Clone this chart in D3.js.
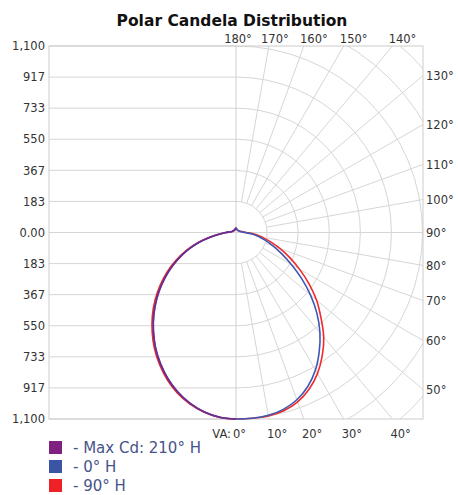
<!DOCTYPE html>
<html>
<head>
<meta charset="utf-8">
<script src="https://cdn.jsdelivr.net/npm/d3@7"></script>
<style>
  html, body { margin: 0; padding: 0; background: #fff; }
  svg { display: block; }
  text { font-family: "DejaVu Sans", Verdana, sans-serif; }
</style>
</head>
<body>
<svg id="chart" width="458" height="495"></svg>
<script>
// ---------------- DATA ----------------
const title = "Polar Candela Distribution";
const maxCd = 1100;
const tickValues = [1100, 916.67, 733.33, 550, 366.67, 183.33, 0];
const tickLabels = ["1,100", "917", "733", "550", "367", "183", "0.00"];
const rightAngles = [130, 120, 110, 100, 90, 80, 70, 60, 50];
const topAngles = [180, 170, 160, 150, 140];
const bottomAngles = [0, 10, 20, 30, 40];
const vAngles = d3.range(0, 181, 5); // vertical angles 0..180

// candela values at vAngles (0..180 step 5)
const purpleLeft = [1100,1094,1075,1044,1003,952,893,829,759,687,612,536,459,382,305,228,152,95,60,38,28,24,22,20,20,19,18,17,17,17,17,18,18,20,22,25,28];
const blueLeft   = [1100,1094,1075,1043,1001,950,891,827,757,685,610,534,457,380,304,227,151,95,60,38,28,24,22,20,20,19,18,17,17,17,17,18,18,20,22,25,28];
const redLeft    = [1100,1095,1077,1048,1009,959,901,838,769,698,624,548,471,392,313,233,155,96,60,38,28,24,22,20,20,19,18,17,17,17,17,18,18,20,22,25,28];
const blueRight  = [1100,1100,1095,1080,1050,1002,937,856,770,675,573,472,377,298,232,180,135,90,52,38,30,25,22,20,20,19,18,17,17,17,17,18,18,20,22,25,28];
const redRight   = [1100,1100,1099,1089,1063,1020,961,887,805,708,620,525,432,350,277,209,158,112,62,42,32,26,23,21,20,19,18,17,17,17,17,18,18,20,22,25,28];

const legendLabels = ["- Max Cd: 210° H", "- 0° H", "- 90° H"];
const legendColors = ["#7f2180", "#3a54a6", "#ee2126"];
const lineColors = { purple: "#722a8c", blue: "#3f57b2", red: "#f02a2a" };

// ---------------- LAYOUT ----------------
const svg = d3.select("#chart");
const x0 = 49, x1 = 423, y0 = 46, y1 = 419;
const cx = 236, cy = (y0 + y1) / 2;
const r = d3.scaleLinear().domain([0, maxCd]).range([0, (y1 - y0) / 2]);
const y = d3.scaleLinear().domain([-maxCd, maxCd]).range([y1, y0]);
const rad = a => a * Math.PI / 180;
const gridColor = "#d6d6d6";

const defs = svg.append("defs");
defs.append("clipPath").attr("id", "rightHalf")
  .append("rect").attr("x", cx).attr("y", y0).attr("width", x1 - cx).attr("height", y1 - y0);

// title
svg.append("text").attr("x", 232).attr("y", 26).attr("text-anchor", "middle")
  .attr("font-size", "15.5px").attr("font-weight", "bold").attr("fill", "#111").text(title);

const grid = svg.append("g");

// left horizontal grid lines
const signedTicks = [];
tickValues.forEach((v, i) => {
  signedTicks.push({ v: v, label: tickLabels[i] });
  if (v !== 0) signedTicks.push({ v: -v, label: tickLabels[i] });
});
grid.selectAll("line.h").data(signedTicks).enter().append("line")
  .attr("x1", x0).attr("x2", d => d.v === 0 ? x1 : cx)
  .attr("y1", d => y(d.v)).attr("y2", d => y(d.v))
  .attr("stroke", gridColor).attr("stroke-width", 1);

// right half rings
const rightGrid = grid.append("g").attr("clip-path", "url(#rightHalf)");
const ringVals = d3.range(1, 9).map(k => maxCd * k / 6);
rightGrid.selectAll("circle").data(ringVals).enter().append("circle")
  .attr("cx", cx).attr("cy", cy).attr("r", d => r(d))
  .attr("fill", "none").attr("stroke", gridColor).attr("stroke-width", 1);

// radial lines (every 10°, from first ring outward)
const radialAngles = d3.range(10, 171, 10);
rightGrid.selectAll("line.rad").data(radialAngles).enter().append("line")
  .attr("x1", a => cx + r(maxCd / 6) * Math.sin(rad(a)))
  .attr("y1", a => cy + r(maxCd / 6) * Math.cos(rad(a)))
  .attr("x2", a => cx + 600 * Math.sin(rad(a)))
  .attr("y2", a => cy + 600 * Math.cos(rad(a)))
  .attr("stroke", gridColor).attr("stroke-width", 1);

// center vertical line
grid.append("line").attr("x1", cx).attr("x2", cx).attr("y1", y0).attr("y2", y1)
  .attr("stroke", "#cfcfcf").attr("stroke-width", 1);

// border
svg.append("rect").attr("x", x0).attr("y", y0).attr("width", x1 - x0).attr("height", y1 - y0)
  .attr("fill", "none").attr("stroke", "#cccccc").attr("stroke-width", 1);

// left axis labels
const axis = d3.axisLeft(y)
  .tickValues(signedTicks.map(d => d.v))
  .tickFormat(v => signedTicks.find(d => d.v === v).label)
  .tickSize(0).tickPadding(4);
const gAxis = svg.append("g").attr("transform", `translate(${x0},0)`).call(axis);
gAxis.select(".domain").remove();
gAxis.selectAll("text").attr("font-size", "11.5px").attr("fill", "#333")
  .attr("font-family", '"DejaVu Sans", Verdana, sans-serif');

const labelStyle = sel => sel.attr("font-size", "11.5px").attr("fill", "#333");

// right labels
svg.selectAll("text.rl").data(rightAngles).enter().append("text")
  .attr("x", x1 + 3)
  .attr("y", a => cy + (x1 - cx) / Math.sin(rad(a)) * Math.cos(rad(a)))
  .attr("dy", "0.36em")
  .text(a => a + "°").call(labelStyle);

// top labels
svg.selectAll("text.tl").data(topAngles).enter().append("text")
  .attr("x", a => {
    const t = (cy - y0) / -Math.cos(rad(a));
    const lx = cx + t * Math.sin(rad(a));
    return lx + 2 + 8 * Math.min(1, (180 - a) / 20);
  })
  .attr("y", 43).attr("text-anchor", "middle")
  .text(a => a + "°").call(labelStyle);

// bottom labels
svg.selectAll("text.bl").data(bottomAngles).enter().append("text")
  .attr("x", a => cx + (y1 - cy) / Math.cos(rad(a)) * Math.sin(rad(a)) - (a === 0 ? 3 : 2))
  .attr("y", 438)
  .text(a => a + "°").call(labelStyle);
svg.append("text").attr("x", cx - 5).attr("y", 438).attr("text-anchor", "end")
  .text("VA:").call(labelStyle);

// curves
const line = d3.lineRadial()
  .angle(d => d.ang).radius(d => r(d.v))
  .curve(d3.curveCatmullRom.alpha(0.5));
function halfPoints(vals, side) {
  return vAngles.map((a, i) => ({ ang: side < 0 ? Math.PI + rad(a) : Math.PI - rad(a), v: vals[i] }));
}
function fullPoints(left, right) {
  return halfPoints(left, -1).slice().reverse().concat(halfPoints(right, 1).slice(1));
}
const curves = svg.append("g").attr("transform", `translate(${cx},${cy})`)
  .attr("fill", "none").attr("stroke-width", 1.6).attr("stroke-linejoin", "round");
curves.append("path").attr("d", line(fullPoints(redLeft, redRight))).attr("stroke", lineColors.red);
curves.append("path").attr("d", line(fullPoints(blueLeft, blueRight))).attr("stroke", lineColors.blue);
curves.append("path").attr("d", line(halfPoints(purpleLeft, -1))).attr("stroke", lineColors.purple);

// legend
const leg = svg.append("g");
legendLabels.forEach((lab, i) => {
  leg.append("rect").attr("x", 49).attr("y", 441 + i * 19).attr("width", 13).attr("height", 13)
    .attr("fill", legendColors[i]);
  leg.append("text").attr("x", 73).attr("y", 453 + i * 19)
    .attr("font-size", "15px").attr("fill", "#47538a").text(lab);
});
</script>
</body>
</html>
